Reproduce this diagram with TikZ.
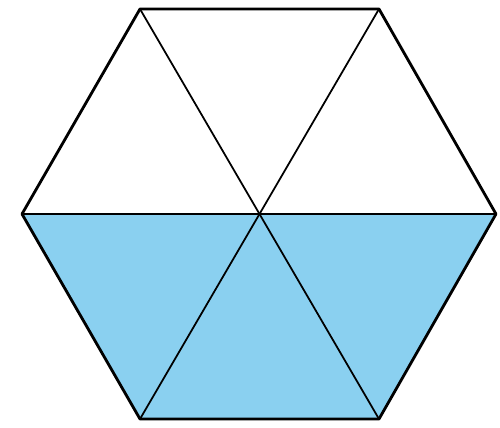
\documentclass[tikz,border=0pt]{standalone}
\usepackage{xcolor}
\definecolor{hexblue}{RGB}{138,208,240}
\usetikzlibrary{calc}
\tikzset{
  hexedge/.style={draw=black, line width=1.6pt, line join=round},
  spoke/.style={draw=black, line width=1pt},
  halffill/.style={fill=hexblue, draw=none}
}

\begin{document}
\begin{tikzpicture}[x=0.02cm, y=-0.02cm]
  \useasboundingbox (0,0) rectangle (500,427);
  % corners of the hexagon
  \coordinate (c) at (261,214);
  \coordinate (tl) at (140,9);
  \coordinate (tr) at (379,9);
  \coordinate (r) at (496,214);
  \coordinate (br) at (379,419);
  \coordinate (bl) at (140,419);
  \coordinate (l) at (22,214);

  % lower half shaded
  \fill[halffill] (l) -- (r) -- (br) -- (bl) -- cycle;

  % spokes
  \draw[spoke] (l) -- (r);
  \draw[spoke] (tl) -- (br);
  \draw[spoke] (tr) -- (bl);

  % outline
  \draw[hexedge] (tl) -- (tr) -- (r) -- (br) -- (bl) -- (l) -- cycle;
\end{tikzpicture}
\end{document}
